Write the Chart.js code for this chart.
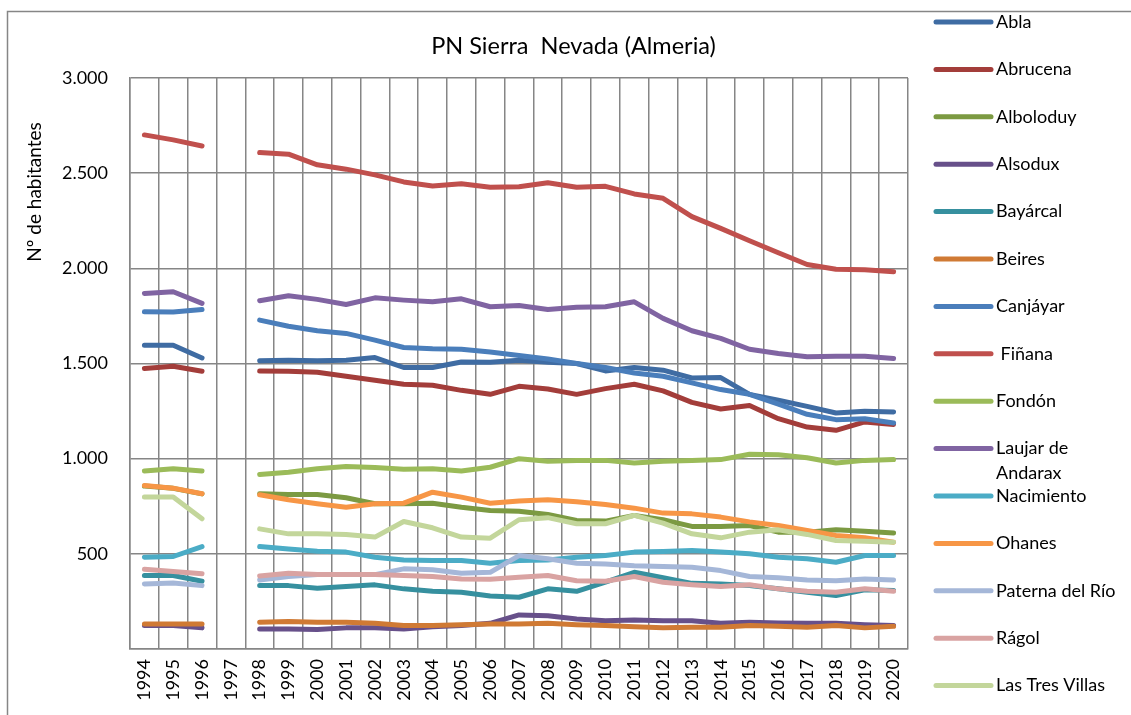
<!DOCTYPE html>
<html>
<head>
<meta charset="utf-8">
<script src="https://cdn.jsdelivr.net/npm/chart.js@4.4.0/dist/chart.umd.min.js"></script>
<style>
  html, body { margin: 0; padding: 0; background: #fff; }
</style>
</head>
<body>
<canvas id="chart" width="1131" height="715"></canvas>
<script>
const years = ['1994', '1995', '1996', '1997', '1998', '1999', '2000', '2001', '2002',
  '2003', '2004', '2005', '2006', '2007', '2008', '2009', '2010', '2011', '2012',
  '2013', '2014', '2015', '2016', '2017', '2018', '2019', '2020'];

// habitantes por municipio (1997 sin dato)
const abla = [1596, 1596, 1529, null, 1514, 1517, 1514, 1517, 1531, 1479, 1479, 1508, 1506, 1517, 1507, 1500, 1461, 1479, 1465, 1424, 1426, 1338, 1307, 1275, 1240, 1249, 1245];
const abrucena = [1474, 1486, 1459, null, 1461, 1459, 1454, 1433, 1412, 1391, 1386, 1359, 1338, 1380, 1366, 1338, 1368, 1391, 1356, 1296, 1261, 1279, 1210, 1166, 1149, 1193, 1180];
const alboloduy = [856, 844, 815, null, 816, 812, 812, 795, 763, 763, 766, 745, 728, 724, 707, 675, 672, 702, 679, 644, 644, 649, 614, 614, 626, 619, 609];
const alsodux = [123, 123, 111, null, 105, 105, 102, 111, 111, 105, 117, 123, 135, 179, 175, 158, 149, 153, 149, 149, 135, 140, 137, 135, 135, 128, 123];
const bayarcal = [386, 386, 356, null, 333, 333, 319, 328, 337, 316, 303, 298, 278, 272, 316, 303, 351, 403, 374, 345, 342, 333, 316, 298, 281, 311, 307];
const beires = [132, 132, 132, null, 140, 144, 140, 140, 135, 123, 123, 128, 132, 132, 135, 128, 123, 117, 111, 114, 114, 123, 119, 114, 123, 111, 119];
const canjayar = [1772, 1770, 1784, null, 1728, 1696, 1672, 1658, 1623, 1584, 1577, 1575, 1560, 1542, 1524, 1500, 1479, 1450, 1433, 1398, 1363, 1338, 1286, 1233, 1205, 1210, 1187];
const finana = [2701, 2675, 2643, null, 2608, 2600, 2544, 2521, 2491, 2454, 2433, 2444, 2426, 2429, 2450, 2426, 2431, 2391, 2368, 2272, 2210, 2145, 2082, 2020, 1995, 1993, 1982];
const fondon = [935, 947, 935, null, 917, 929, 947, 959, 953, 944, 947, 935, 955, 1000, 986, 991, 991, 977, 987, 991, 995, 1023, 1020, 1005, 977, 991, 995];
const laujar = [1868, 1877, 1816, null, 1830, 1856, 1837, 1810, 1845, 1833, 1824, 1840, 1798, 1805, 1784, 1795, 1798, 1824, 1737, 1672, 1632, 1575, 1553, 1535, 1538, 1538, 1526];
const nacimiento = [482, 486, 538, null, 538, 526, 514, 509, 482, 468, 465, 465, 451, 465, 468, 482, 491, 509, 512, 517, 509, 500, 482, 474, 456, 491, 491];
const ohanes = [859, 845, 816, null, 810, 784, 763, 745, 763, 766, 824, 798, 766, 777, 784, 774, 759, 740, 714, 710, 693, 668, 649, 623, 596, 584, 561];
const paterna = [342, 347, 333, null, 363, 381, 391, 391, 391, 421, 416, 398, 403, 491, 474, 451, 447, 438, 433, 429, 412, 381, 374, 363, 359, 368, 363];
const ragol = [419, 407, 395, null, 384, 398, 391, 391, 391, 386, 381, 368, 366, 377, 386, 359, 356, 381, 351, 338, 328, 338, 316, 303, 298, 316, 303];
const tresVillas = [798, 798, 684, null, 631, 605, 605, 602, 588, 670, 637, 588, 582, 679, 690, 658, 658, 702, 661, 605, 584, 614, 626, 602, 570, 566, 561];

const series = [
  ['Abla', abla, '#3f6ca3'],
  ['Abrucena', abrucena, '#a33d3a'],
  ['Alboloduy', alboloduy, '#7c9a42'],
  ['Alsodux', alsodux, '#67508a'],
  ['Bayárcal', bayarcal, '#36909f'],
  ['Beires', beires, '#d07a34'],
  ['Canjáyar', canjayar, '#4a7ebb'],
  [' Fiñana', finana, '#c0504d'],
  ['Fondón', fondon, '#9bbb59'],
  ['Laujar de Andarax', laujar, '#8064a2'],
  ['Nacimiento', nacimiento, '#4bacc6'],
  ['Ohanes', ohanes, '#f79646'],
  ['Paterna del Río', paterna, '#a5b7d8'],
  ['Rágol', ragol, '#d9a3a2'],
  ['Las Tres Villas', tresVillas, '#c3d69b']
];

const chartTitle = 'PN Sierra  Nevada (Almeria)';
const yTitle = 'Nº de habitantes';
const FONT = 'Lato, "Open Sans", sans-serif';
const GRID = '#868686';

function thousands(v) {
  return String(v).replace(/\B(?=(\d{3})+(?!\d))/g, '.');
}

function wrapText(ctx, text, maxWidth) {
  const words = text.split(' ');
  const lines = [];
  let line = words[0];
  for (let i = 1; i < words.length; i++) {
    const test = line + ' ' + words[i];
    if (line !== '' && ctx.measureText(test).width > maxWidth) {
      lines.push(line);
      line = words[i];
    } else {
      line = test;
    }
  }
  lines.push(line);
  return lines;
}

// frame, title, axis title and legend drawn by hand
const decorations = {
  id: 'decorations',
  beforeDraw(chart) {
    const ctx = chart.ctx;
    ctx.save();
    ctx.fillStyle = '#fff';
    ctx.fillRect(0, 0, chart.width, chart.height);
    ctx.strokeStyle = GRID;
    ctx.lineWidth = 1.5;
    ctx.beginPath();
    ctx.moveTo(7.5, chart.height);
    ctx.lineTo(7.5, 11.5);
    ctx.lineTo(chart.width, 11.5);
    ctx.stroke();
    ctx.restore();
  },
  afterDraw(chart) {
    const ctx = chart.ctx;
    const area = chart.chartArea;
    ctx.save();
    ctx.fillStyle = '#000';
    ctx.textBaseline = 'middle';

    ctx.textAlign = 'center';
    ctx.font = '23.5px ' + FONT;
    ctx.fillText(chartTitle, chart.width / 2 + 8, 46);

    ctx.save();
    ctx.translate(35, area.top + 114);
    ctx.rotate(-Math.PI / 2);
    ctx.font = '19px ' + FONT;
    ctx.fillText(yTitle, 0, 0);
    ctx.restore();

    const lx = area.right + 28;
    const tx = lx + 60;
    const step = 47.4;
    ctx.font = '18px ' + FONT;
    ctx.textAlign = 'left';
    chart.data.datasets.forEach((ds, i) => {
      const y = 22 + i * step;
      ctx.strokeStyle = ds.borderColor;
      ctx.lineWidth = 5;
      ctx.lineCap = 'round';
      ctx.beginPath();
      ctx.moveTo(lx, y);
      ctx.lineTo(lx + 55, y);
      ctx.stroke();
      const lines = wrapText(ctx, ds.label, chart.width - tx - 2);
      lines.forEach((t, k) => ctx.fillText(t, tx, y + k * 25));
    });
    ctx.restore();
  }
};

new Chart(document.getElementById('chart').getContext('2d'), {
  type: 'line',
  data: {
    labels: years,
    datasets: series.map(([label, data, color], i) => ({
      label: label,
      data: data,
      borderColor: color,
      backgroundColor: color,
      borderWidth: 5,
      borderCapStyle: 'round',
      borderJoinStyle: 'round',
      pointRadius: 0,
      tension: 0,
      spanGaps: false,
      order: series.length - i
    }))
  },
  options: {
    responsive: false,
    animation: false,
    layout: { padding: { top: 78, right: 223, bottom: 0, left: 0 } },
    plugins: {
      legend: { display: false },
      title: { display: false },
      tooltip: { enabled: false }
    },
    scales: {
      x: {
        offset: true,
        grid: { offset: true, color: GRID, lineWidth: 1.5, drawTicks: false },
        border: { color: GRID, width: 1.5 },
        ticks: {
          autoSkip: false,
          maxRotation: 90,
          minRotation: 90,
          padding: 10,
          color: '#000',
          font: { family: FONT, size: 18 }
        },
        afterFit(scale) { scale.height = 66; }
      },
      y: {
        min: 0,
        max: 3000,
        grid: { color: GRID, lineWidth: 1.5, drawTicks: false },
        border: { color: GRID, width: 1.5 },
        ticks: {
          stepSize: 500,
          padding: 22,
          color: '#000',
          font: { family: FONT, size: 18 },
          callback: (v) => v === 0 ? '' : thousands(v)
        },
        afterFit(scale) { scale.width = 130; }
      }
    }
  },
  plugins: [decorations]
});
</script>
</body>
</html>
